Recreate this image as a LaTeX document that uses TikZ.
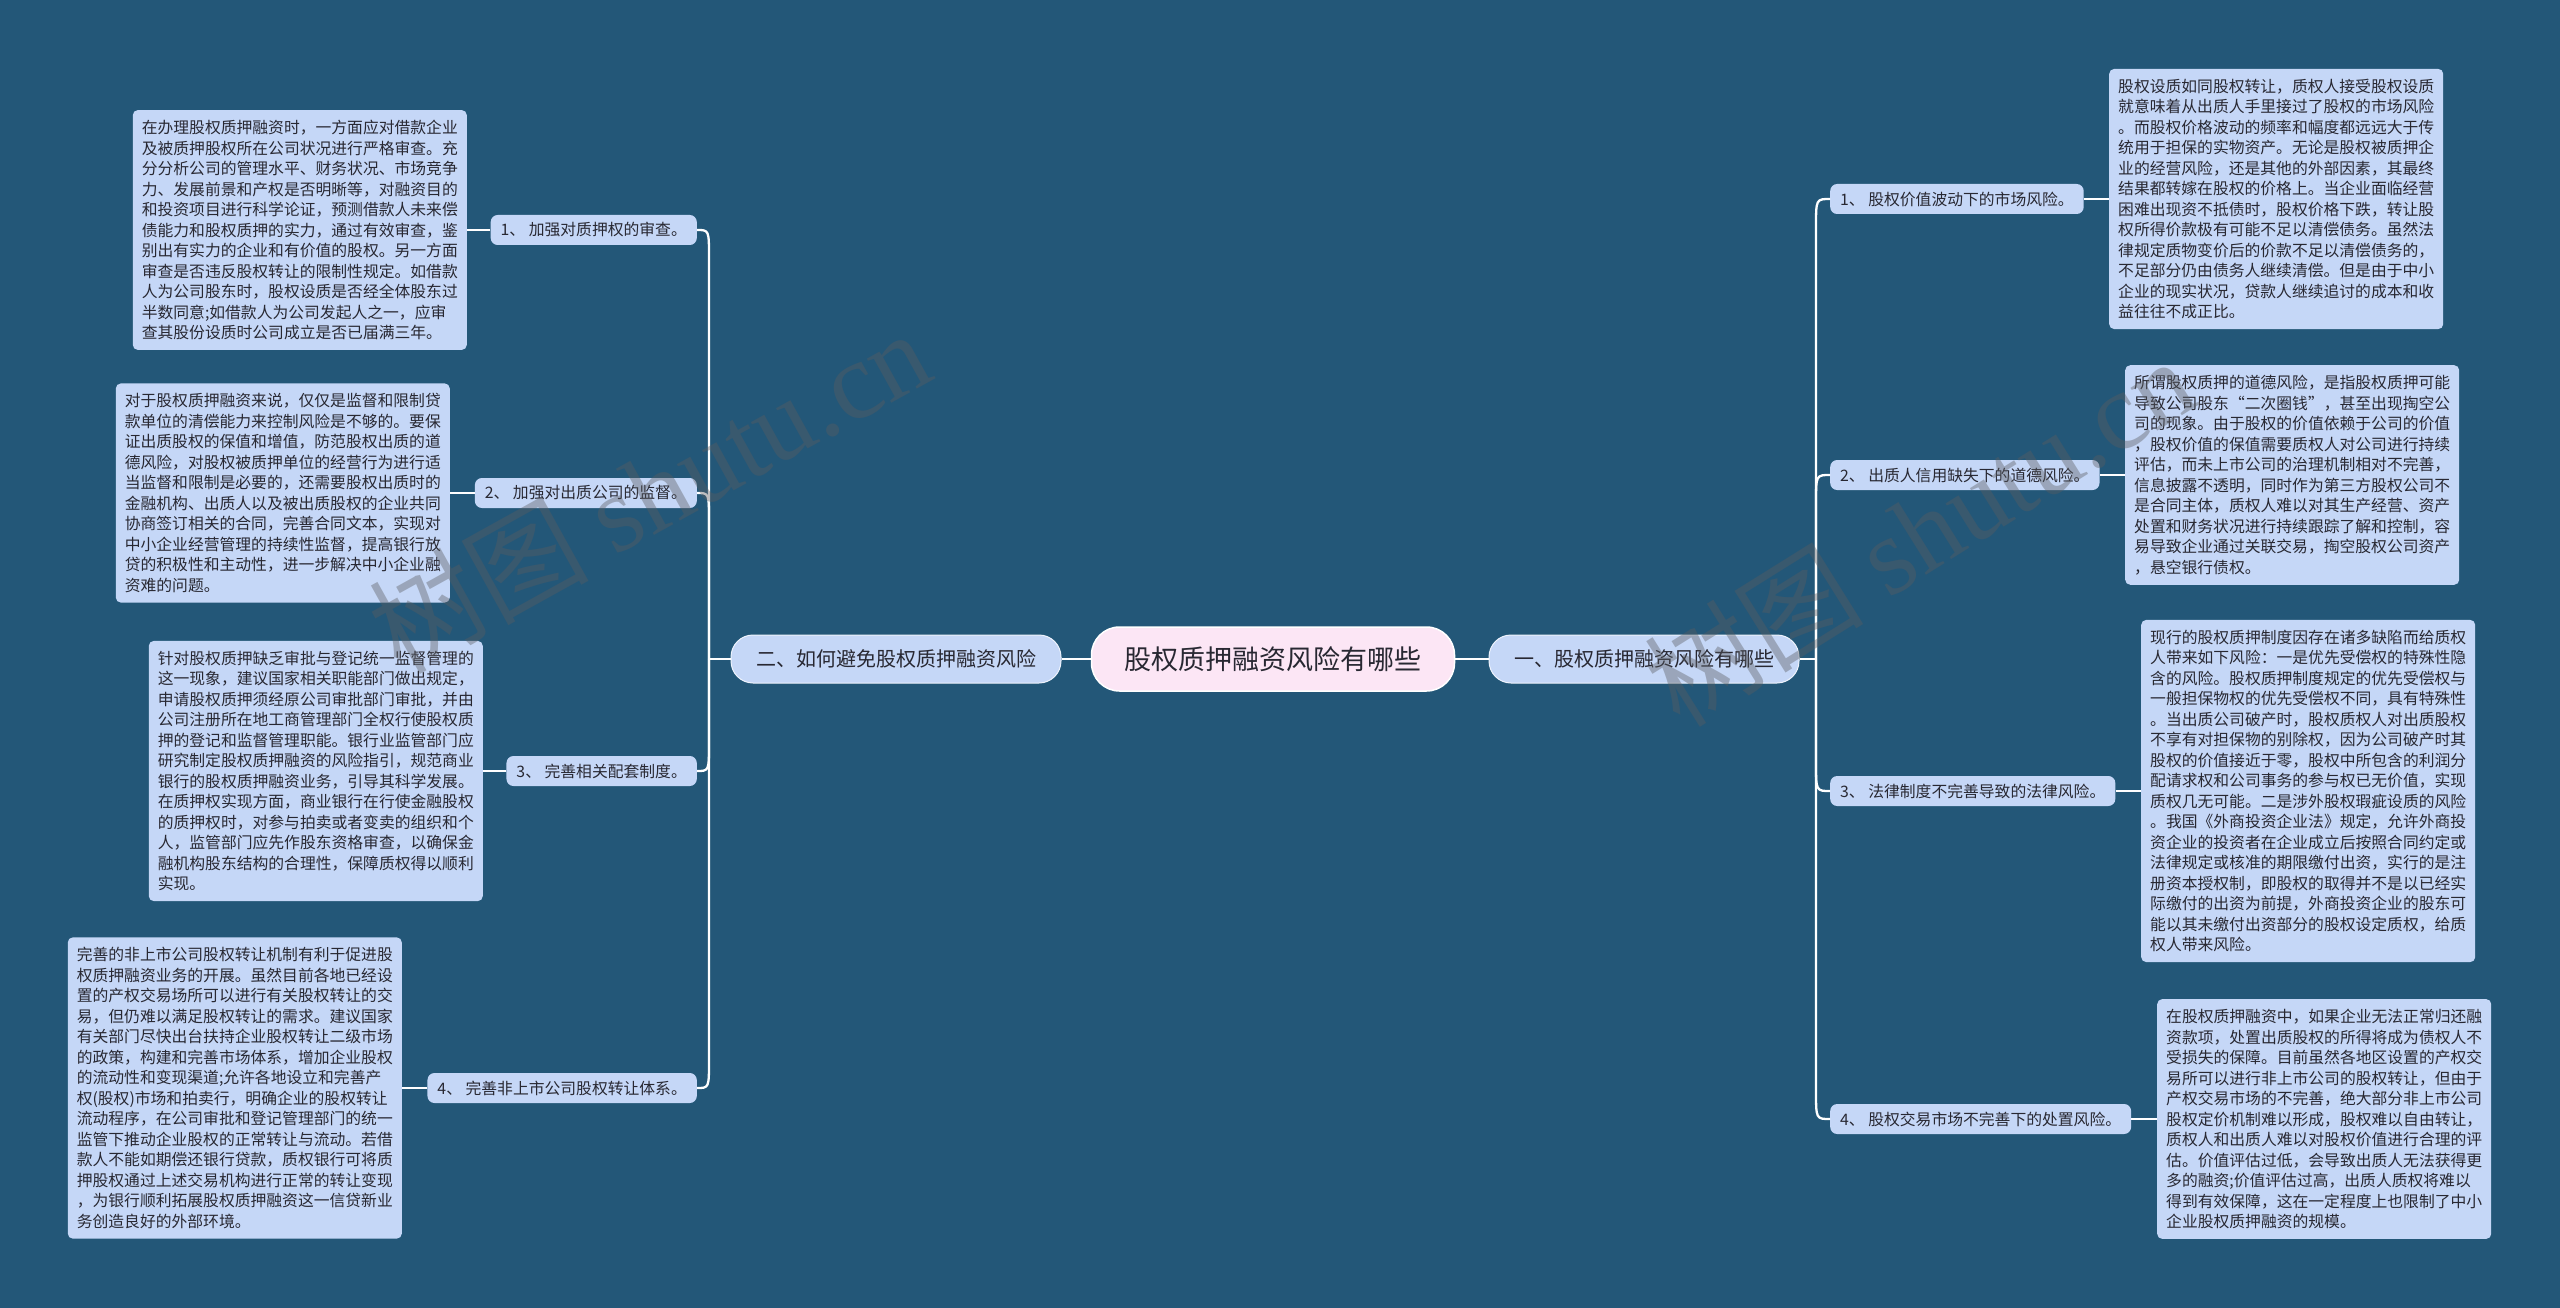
\documentclass[tikz,border=0pt]{standalone}
\usepackage{fontspec}
\setmainfont{Noto Sans CJK SC}
\newfontfamily\wmlatin{Liberation Serif}
\usetikzlibrary{calc}
\definecolor{bg}{RGB}{35,87,120}
\definecolor{boxfill}{RGB}{197,215,247}
\definecolor{txt}{RGB}{40,40,50}
\definecolor{centerfill}{RGB}{252,230,245}
\definecolor{wmcol}{RGB}{90,92,96}
\begin{document}
\begin{tikzpicture}[x=1pt,y=-1pt,
  conn/.style={draw=white,line width=2.3pt},
  textbox/.style={fill=boxfill,rounded corners=5pt,align=left,inner xsep=9pt,inner ysep=10pt,text=txt,font=\fontsize{15.8}{20.5}\selectfont},
  sublabel/.style={fill=boxfill,rounded corners=7pt,inner xsep=10pt,inner ysep=0pt,minimum height=30pt,text=txt,font=\fontsize{15.8}{18}\selectfont},
  mainbox/.style={fill=boxfill,rounded corners=22pt,minimum height=48pt,inner xsep=25pt,text=txt,font=\fontsize{20}{24}\selectfont,draw=white!70!boxfill,line width=1pt},
  rootbox/.style={fill=centerfill,rounded corners=28pt,minimum height=64pt,inner xsep=33pt,text=txt,font=\fontsize{27}{32}\selectfont,draw=white,line width=1.5pt},
  wm/.style={text=wmcol,opacity=0.4,font=\fontsize{110}{120}\selectfont}
]
\fill[bg] (0,0) rectangle (2560,1308);
\useasboundingbox (0,0) rectangle (2560,1308);

% root and main branches
\node[rootbox] (root) at (1273,659) {股权质押融资风险有哪些};
\node[mainbox] (mL) at (896,659) {二、如何避免股权质押融资风险};
\node[mainbox] (mR) at (1644,659) {一、股权质押融资风险有哪些};

% left sub labels
\node[sublabel,anchor=east] (l1) at (697,230) {1、 加强对质押权的审查。};
\node[sublabel,anchor=east] (l2) at (697,493) {2、 加强对出质公司的监督。};
\node[sublabel,anchor=east] (l3) at (697,771) {3、 完善相关配套制度。};
\node[sublabel,anchor=east] (l4) at (697,1088) {4、 完善非上市公司股权转让体系。};

% right sub labels
\node[sublabel,anchor=west] (r1) at (1830,199) {1、 股权价值波动下的市场风险。};
\node[sublabel,anchor=west] (r2) at (1830,475) {2、 出质人信用缺失下的道德风险。};
\node[sublabel,anchor=west] (r3) at (1830,791) {3、 法律制度不完善导致的法律风险。};
\node[sublabel,anchor=west] (r4) at (1830,1119) {4、 股权交易市场不完善下的处置风险。};

% left text boxes
\node[textbox,anchor=east] (B1) at (467,230) {在办理股权质押融资时，一方面应对借款企业\\及被质押股权所在公司状况进行严格审查。充\\分分析公司的管理水平、财务状况、市场竞争\\力、发展前景和产权是否明晰等，对融资目的\\和投资项目进行科学论证，预测借款人未来偿\\债能力和股权质押的实力，通过有效审查，鉴\\别出有实力的企业和有价值的股权。另一方面\\审查是否违反股权转让的限制性规定。如借款\\人为公司股东时，股权设质是否经全体股东过\\半数同意;如借款人为公司发起人之一，应审\\查其股份设质时公司成立是否已届满三年。};
\node[textbox,anchor=east] (B2) at (450,493) {对于股权质押融资来说，仅仅是监督和限制贷\\款单位的清偿能力来控制风险是不够的。要保\\证出质股权的保值和增值，防范股权出质的道\\德风险，对股权被质押单位的经营行为进行适\\当监督和限制是必要的，还需要股权出质时的\\金融机构、出质人以及被出质股权的企业共同\\协商签订相关的合同，完善合同文本，实现对\\中小企业经营管理的持续性监督，提高银行放\\贷的积极性和主动性，进一步解决中小企业融\\资难的问题。};
\node[textbox,anchor=east] (B3) at (483,771) {针对股权质押缺乏审批与登记统一监督管理的\\这一现象，建议国家相关职能部门做出规定，\\申请股权质押须经原公司审批部门审批，并由\\公司注册所在地工商管理部门全权行使股权质\\押的登记和监督管理职能。银行业监管部门应\\研究制定股权质押融资的风险指引，规范商业\\银行的股权质押融资业务，引导其科学发展。\\在质押权实现方面，商业银行在行使金融股权\\的质押权时，对参与拍卖或者变卖的组织和个\\人，监管部门应先作股东资格审查，以确保金\\融机构股东结构的合理性，保障质权得以顺利\\实现。};
\node[textbox,anchor=east] (B4) at (402,1088) {完善的非上市公司股权转让机制有利于促进股\\权质押融资业务的开展。虽然目前各地已经设\\置的产权交易场所可以进行有关股权转让的交\\易，但仍难以满足股权转让的需求。建议国家\\有关部门尽快出台扶持企业股权转让二级市场\\的政策，构建和完善市场体系，增加企业股权\\的流动性和变现渠道;允许各地设立和完善产\\权(股权)市场和拍卖行，明确企业的股权转让\\流动程序，在公司审批和登记管理部门的统一\\监管下推动企业股权的正常转让与流动。若借\\款人不能如期偿还银行贷款，质权银行可将质\\押股权通过上述交易机构进行正常的转让变现\\，为银行顺利拓展股权质押融资这一信贷新业\\务创造良好的外部环境。};

% right text boxes
\node[textbox,anchor=west] (C1) at (2109,199) {股权设质如同股权转让，质权人接受股权设质\\就意味着从出质人手里接过了股权的市场风险\\。而股权价格波动的频率和幅度都远远大于传\\统用于担保的实物资产。无论是股权被质押企\\业的经营风险，还是其他的外部因素，其最终\\结果都转嫁在股权的价格上。当企业面临经营\\困难出现资不抵债时，股权价格下跌，转让股\\权所得价款极有可能不足以清偿债务。虽然法\\律规定质物变价后的价款不足以清偿债务的，\\不足部分仍由债务人继续清偿。但是由于中小\\企业的现实状况，贷款人继续追讨的成本和收\\益往往不成正比。};
\node[textbox,anchor=west] (C2) at (2125,475) {所谓股权质押的道德风险，是指股权质押可能\\导致公司股东“二次圈钱”，甚至出现掏空公\\司的现象。由于股权的价值依赖于公司的价值\\，股权价值的保值需要质权人对公司进行持续\\评估，而未上市公司的治理机制相对不完善，\\信息披露不透明，同时作为第三方股权公司不\\是合同主体，质权人难以对其生产经营、资产\\处置和财务状况进行持续跟踪了解和控制，容\\易导致企业通过关联交易，掏空股权公司资产\\，悬空银行债权。};
\node[textbox,anchor=west] (C3) at (2141,791) {现行的股权质押制度因存在诸多缺陷而给质权\\人带来如下风险：一是优先受偿权的特殊性隐\\含的风险。股权质押制度规定的优先受偿权与\\一般担保物权的优先受偿权不同，具有特殊性\\。当出质公司破产时，股权质权人对出质股权\\不享有对担保物的别除权，因为公司破产时其\\股权的价值接近于零，股权中所包含的利润分\\配请求权和公司事务的参与权已无价值，实现\\质权几无可能。二是涉外股权瑕疵设质的风险\\。我国《外商投资企业法》规定，允许外商投\\资企业的投资者在企业成立后按照合同约定或\\法律规定或核准的期限缴付出资，实行的是注\\册资本授权制，即股权的取得并不是以已经实\\际缴付的出资为前提，外商投资企业的股东可\\能以其未缴付出资部分的股权设定质权，给质\\权人带来风险。};
\node[textbox,anchor=west] (C4) at (2157,1119) {在股权质押融资中，如果企业无法正常归还融\\资款项，处置出质股权的所得将成为债权人不\\受损失的保障。目前虽然各地区设置的产权交\\易所可以进行非上市公司的股权转让，但由于\\产权交易市场的不完善，绝大部分非上市公司\\股权定价机制难以形成，股权难以自由转让，\\质权人和出质人难以对股权价值进行合理的评\\估。价值评估过低，会导致出质人无法获得更\\多的融资;价值评估过高，出质人质权将难以\\得到有效保障，这在一定程度上也限制了中小\\企业股权质押融资的规模。};

% connectors
\coordinate (bL) at (709,659);
\coordinate (bR) at (1816,659);
\draw[conn] (root.west) -- (mL.east);
\draw[conn] (root.east) -- (mR.west);
\draw[conn] (mL.west) -- (bL);
\draw[conn] (mR.east) -- (bR);

\draw[conn] (bL) -- ($(bL|-l1.east)+(0,28)$) .. controls (bL|-l1.east) .. (l1.east);
\draw[conn] (bL) -- ($(bL|-l2.east)+(0,28)$) .. controls (bL|-l2.east) .. (l2.east);
\draw[conn] (bL) -- ($(bL|-l3.east)+(0,-28)$) .. controls (bL|-l3.east) .. (l3.east);
\draw[conn] (bL) -- ($(bL|-l4.east)+(0,-28)$) .. controls (bL|-l4.east) .. (l4.east);

\draw[conn] (bR) -- ($(bR|-r1.west)+(0,28)$) .. controls (bR|-r1.west) .. (r1.west);
\draw[conn] (bR) -- ($(bR|-r2.west)+(0,28)$) .. controls (bR|-r2.west) .. (r2.west);
\draw[conn] (bR) -- ($(bR|-r3.west)+(0,-28)$) .. controls (bR|-r3.west) .. (r3.west);
\draw[conn] (bR) -- ($(bR|-r4.west)+(0,-28)$) .. controls (bR|-r4.west) .. (r4.west);

\draw[conn] (l1.west) -- (B1.east);
\draw[conn] (l2.west) -- (B2.east);
\draw[conn] (l3.west) -- (B3.east);
\draw[conn] (l4.west) -- (B4.east);
\draw[conn] (r1.east) -- (C1.west);
\draw[conn] (r2.east) -- (C2.west);
\draw[conn] (r3.east) -- (C3.west);
\draw[conn] (r4.east) -- (C4.west);

% watermark
\node[wm,rotate=29] (wm1) at (649,490) {树图 {\wmlatin shutu.cn}};
\node[wm,rotate=32] (wm2) at (1919,531) {树图 {\wmlatin shutu.cn}};
\end{tikzpicture}
\end{document}
